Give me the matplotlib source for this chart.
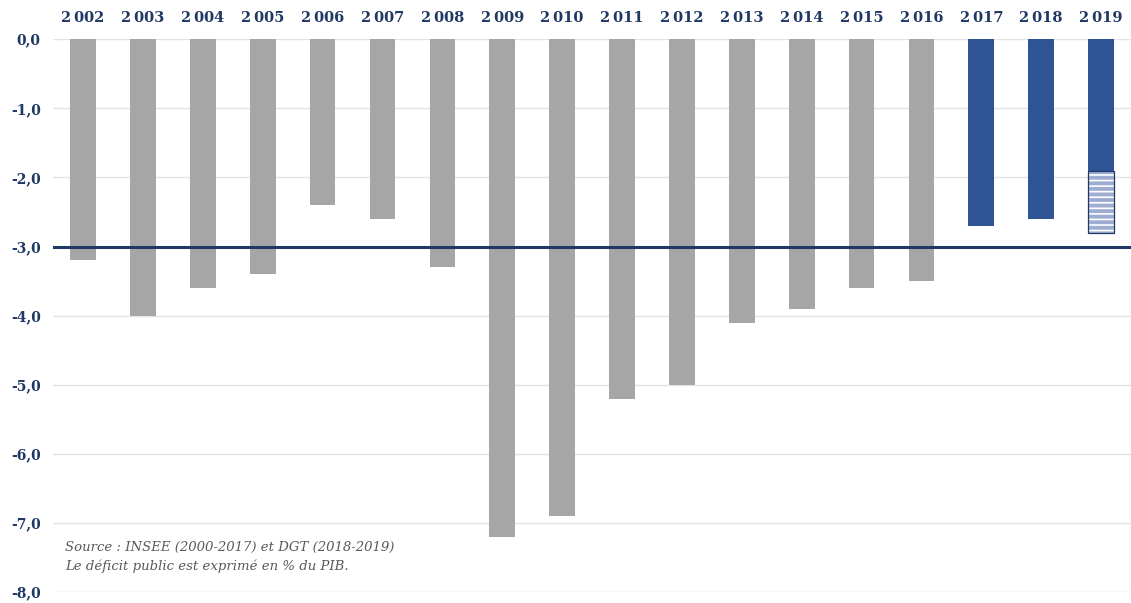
import matplotlib
matplotlib.use("Agg")
import matplotlib.pyplot as plt
import numpy as np

years = list(range(2002, 2020))
deficit = [-3.2, -4.0, -3.6, -3.4, -2.4, -2.6, -3.3, -7.2, -6.9, -5.2,
           -5.0, -4.1, -3.9, -3.6, -3.5, -2.7, -2.6, -1.9]
# 2019 : part supplémentaire (hachurée) sous la partie pleine
extra_2019 = -0.9
is_forecast = [y >= 2017 for y in years]
y_ticks = [0, -1, -2, -3, -4, -5, -6, -7, -8]
threshold = -3.0

GREY = "#a6a6a6"
BLUE = "#2f5496"
NAVY = "#1f3864"

plt.rcParams["hatch.linewidth"] = 1.2

fig = plt.figure(figsize=(11.31, 6.03), dpi=100)
ax = fig.add_axes([0.047, 0.018, 0.953, 0.917])

x = np.arange(len(years))
colors = [BLUE if f else GREY for f in is_forecast]
ax.bar(x, deficit, width=0.43, color=colors, zorder=2)
# partie hachurée : fond clair, rayures blanches, contour bleu
ax.bar(x[-1], extra_2019, bottom=deficit[-1], width=0.43, color="#9fadd3",
       edgecolor="white", hatch="---", linewidth=0, zorder=2)
ax.bar(x[-1], extra_2019, bottom=deficit[-1], width=0.43, fill=False,
       edgecolor=NAVY, linewidth=0.9, zorder=2)

ax.axhline(threshold, color=NAVY, linewidth=2.2, zorder=3)

ax.set_xlim(-0.5, len(years) - 0.5)
ax.set_ylim(-8, 0)
ax.set_yticks(y_ticks)
ax.set_yticklabels([f"{v:.1f}".replace(".", ",") for v in y_ticks],
                   fontfamily="DejaVu Serif", fontweight="bold",
                   fontsize=10, color=NAVY)
ax.yaxis.grid(True, color="#e3e3e3", linewidth=1, zorder=0)

ax.xaxis.tick_top()
ax.set_xticks(x)
ax.set_xticklabels([f"{str(y)[0]}\u2009{str(y)[1:]}" for y in years],
                   fontfamily="DejaVu Serif", fontweight="bold",
                   fontsize=10.5, color=NAVY)
ax.tick_params(axis="x", length=0, pad=10)
ax.tick_params(axis="y", length=0, pad=9)
for s in ax.spines.values():
    s.set_visible(False)

ax.text(0.011, 0.092, "Source : INSEE (2000-2017) et DGT (2018-2019)\n"
        "Le déficit public est exprimé en % du PIB.",
        transform=ax.transAxes, fontfamily="DejaVu Serif", style="italic",
        fontsize=9.5, color="#595959", va="top", linespacing=1.5)

fig.savefig("out.png", dpi=100)
